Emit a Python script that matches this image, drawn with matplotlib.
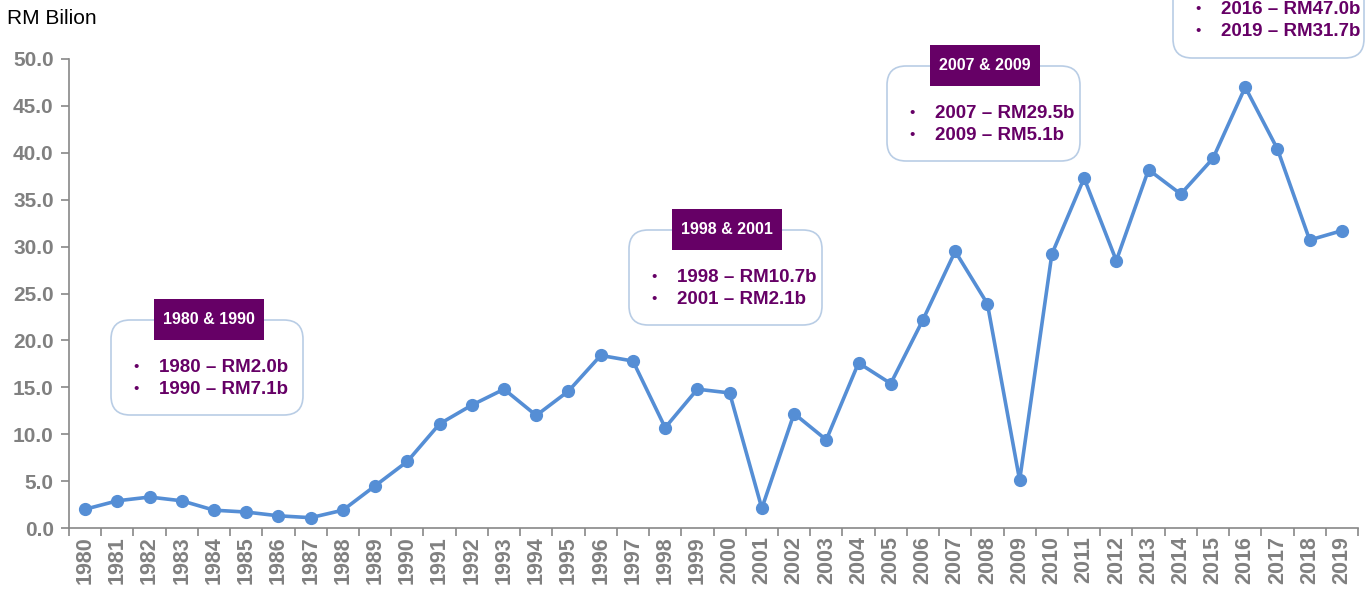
import matplotlib.pyplot as plt
from matplotlib.patches import FancyBboxPatch, Rectangle
import numpy as np

years = [str(y) for y in range(1980, 2020)]
values = [2.0, 2.9, 3.3, 2.9, 1.9, 1.7, 1.3, 1.1, 1.9, 4.5,
          7.1, 11.1, 13.1, 14.8, 12.0, 14.6, 18.4, 17.8, 10.7, 14.8,
          14.4, 2.1, 12.2, 9.4, 17.6, 15.4, 22.2, 29.5, 23.9, 5.1,
          29.2, 37.3, 28.5, 38.2, 35.6, 39.4, 47.0, 40.4, 30.7, 31.7]
y_ticks = [0, 5, 10, 15, 20, 25, 30, 35, 40, 45, 50]

# callout boxes: header, bullet lines, box (left, top, right, bottom) in px
callouts = [
    ("1980 & 1990", ["1980 \u2013 RM2.0b", "1990 \u2013 RM7.1b"], (111, 320, 303, 415)),
    ("1998 & 2001", ["1998 \u2013 RM10.7b", "2001 \u2013 RM2.1b"], (629, 230, 822, 325)),
    ("2007 & 2009", ["2007 \u2013 RM29.5b", "2009 \u2013 RM5.1b"], (887, 66, 1080, 161)),
    (None, ["2016 \u2013 RM47.0b", "2019 \u2013 RM31.7b"], (1173, -40, 1364, 58)),
]

W, H = 1366, 592
plt.rcParams['font.family'] = ['Liberation Sans', 'DejaVu Sans']
fig = plt.figure(figsize=(W / 100, H / 100), dpi=100)
ax = fig.add_axes([69 / W, 1 - 528 / H, (1358 - 69) / W, (528 - 59) / H])

x = np.arange(len(years))
ax.plot(x, values, color='#558ED5', lw=2.6, marker='o', markersize=8.5,
        solid_joinstyle='round', zorder=3)

ax.set_xlim(-0.5, len(years) - 0.5)
ax.set_ylim(0, 50)
ax.set_yticks(y_ticks)
ax.set_yticklabels([f'{v:.1f}' for v in y_ticks], fontsize=15,
                   fontweight='bold', color='#808080')
ax.set_xticks(x)
ax.set_xticklabels(years, rotation=90, fontsize=15.5, fontweight='bold',
                   color='#808080')
ax.set_xticks(np.arange(-0.5, len(years)), minor=True)
ax.tick_params(axis='x', which='major', length=0, pad=6)
ax.tick_params(axis='x', which='minor', length=6, color='#888888', width=1.2)
ax.tick_params(axis='y', length=6, color='#888888', width=1.2, pad=5)
for s in ['top', 'right']:
    ax.spines[s].set_visible(False)
for s in ['left', 'bottom']:
    ax.spines[s].set_color('#888888')
    ax.spines[s].set_linewidth(1.2)

fig.text(7 / W, 1 - 18 / H, 'RM Bilion', fontsize=15, va='center', ha='left')

def fx(px):
    return px / W

def fy(py):
    return 1 - py / H

purple = '#660066'
for header, lines, (l, t, r, b) in callouts:
    box = FancyBboxPatch((fx(l), fy(b)), fx(r - l), (b - t) / H,
                         boxstyle='round,pad=0,rounding_size=0.014',
                         transform=fig.transFigure, facecolor='white',
                         edgecolor='#B9CDE5', lw=1.2, zorder=5,
                         mutation_aspect=W / H)
    fig.add_artist(box)
    if header:
        hl, hr = l + 43, l + 153
        ht, hb = t - 21, t + 20
        fig.add_artist(Rectangle((fx(hl), fy(hb)), fx(hr - hl), (hb - ht) / H,
                                 transform=fig.transFigure, facecolor=purple,
                                 edgecolor='none', zorder=6))
        fig.text(fx((hl + hr) / 2), fy((ht + hb) / 2), header, color='white',
                 fontsize=11.5, fontweight='bold', ha='center', va='center',
                 zorder=7)
        y0 = t + 47
    else:
        y0 = 9
    for i, line in enumerate(lines):
        yy = y0 + i * 22.5
        fig.text(fx(l + 22), fy(yy), '\u2022', color=purple, fontsize=11,
                 ha='left', va='center', zorder=7)
        fig.text(fx(l + 48), fy(yy), line, color=purple, fontsize=13.5,
                 fontweight='bold', ha='left', va='center', zorder=7)

fig.savefig('out.png', dpi=100)
